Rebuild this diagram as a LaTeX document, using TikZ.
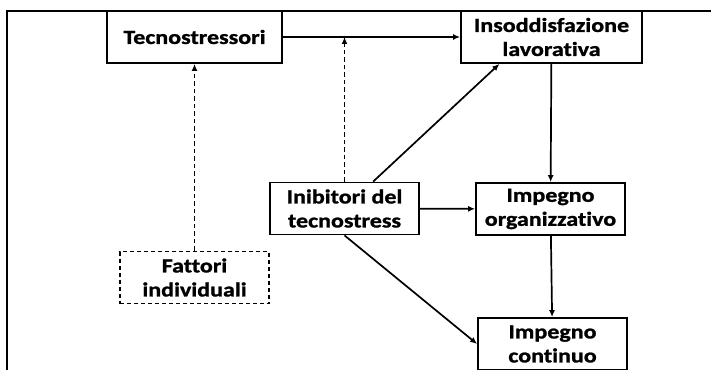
\documentclass[tikz,border=0pt]{standalone}
\usepackage{fontspec}
\setmainfont{Carlito}[FakeStretch=1.2,Ligatures=NoCommon,BoldFeatures={FakeBold=1.2}]
\usepackage{tikz}
\usetikzlibrary{arrows.meta,calc}

\begin{document}
\begin{tikzpicture}[x=1pt,y=-1pt,
		box/.style={draw,line width=1.8pt,align=center,inner sep=0pt,minimum width=149pt,minimum height=52pt,font=\fontsize{20}{24}\selectfont\bfseries},
		dashbox/.style={box,dash pattern=on 4pt off 3pt},
		arr/.style={line width=1.7pt,-{Latex[length=7pt,width=6pt]}},
		darr/.style={arr,dash pattern=on 4.5pt off 3pt}]
		\clip (0,0) rectangle (711,369);
		\draw [line width=2.5pt] (7,11) rectangle (740,400);
		
		\node [box,minimum width=175pt] (tecno) at (194.5, 37) {Tecnostressori};
		\node [box,minimum width=181pt] (insodd) at (551.5, 37) {Insoddisfazione\\lavorativa};
		\node [box] (inib) at (344.5, 208.5) {Inibitori del\\tecnostress};
		\node [box] (imporg) at (550.5, 209) {Impegno\\organizzativo};
		\node [dashbox] (fattori) at (194.5, 277.5) {Fattori\\individuali};
		\node [box] (impcont) at (552.5, 344) {Impegno\\continuo};
		\coordinate (mod) at (344.5, 37);
		
		\draw [arr] (tecno) to (insodd);
		\draw [darr] (fattori) to (tecno);
		\draw [darr] (inib.north) to (mod);
		\draw [arr] ($(inib.north west)!0.69!(inib.north east)$) to ($(insodd.south west)!0.215!(insodd.south east)$);
		\draw [arr] (inib) to (imporg);
		\draw [arr] (insodd) to (imporg);
		\draw [arr] (imporg) to (impcont);
		\draw [arr] (inib.south) to (impcont.west);
\end{tikzpicture}
\end{document}
